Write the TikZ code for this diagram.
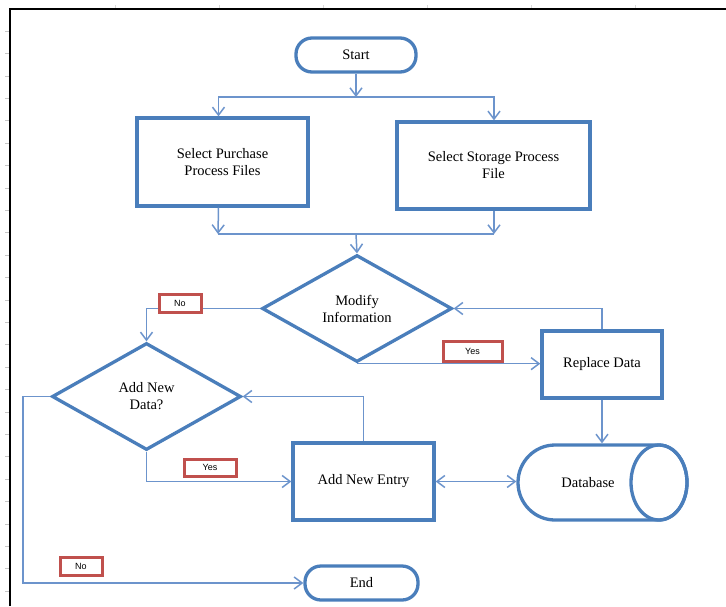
\documentclass[tikz,border=0pt]{standalone}
\usepackage{fontspec}
\setmainfont{Liberation Serif}
\newfontfamily\tagfont{Liberation Sans}
\usetikzlibrary{arrows.meta,calc,shapes.geometric}

\definecolor{boxblue}{RGB}{74,126,187}
\definecolor{linkblue}{RGB}{108,148,204}
\definecolor{tagred}{RGB}{192,80,77}

\tikzset{
  base/.style={draw=boxblue, line width=3.3pt, fill=white, align=center, inner sep=2pt,
    font=\fontsize{14.5}{17}\selectfont},
  terminal/.style={base, rounded corners=16pt, minimum width=#1, minimum height=34pt},
  stepbox/.style={base, minimum width=#1},
  decision/.style={base, diamond, inner sep=0pt, minimum width=190pt, minimum height=107pt},
  link/.style={draw=linkblue, line width=1.5pt},
  arrow/.style={link, -{Straight Barb[length=8pt,width=12pt]}},
  both/.style={link, {Straight Barb[length=8pt,width=12pt]}-{Straight Barb[length=8pt,width=12pt]}},
  tag/.style={draw=tagred, line width=3pt, fill=white, inner sep=0pt,
    minimum height=18pt, minimum width=#1, font=\tagfont\fontsize{9}{10}\selectfont},
}

\begin{document}
\begin{tikzpicture}[x=1pt, y=-1pt]
\useasboundingbox (0,0) rectangle (726,606);

% sheet frame with its gridline ticks
\foreach \t in {0,...,25} \draw[gray!45, line width=0.6pt] (5,31+22.4*\t) -- (9,31+22.4*\t);
\foreach \t in {0,...,6} \draw[gray!30, line width=0.6pt] (115+104*\t,5) -- (115+104*\t,8);
\draw[black, line width=2.2pt] (10,606) -- (10,9) -- (726,9);

% flowchart nodes
\node[terminal=120pt] (start) at (356,55) {Start};
\node[stepbox=171pt, minimum height=88pt] (purchase) at (222.5,162) {Select Purchase\\Process Files};
\node[stepbox=193pt, minimum height=87pt] (storage) at (493.5,165.5) {Select Storage Process\\File};
\node[decision] (modify) at (357,308.5) {Modify\\Information};
\node[decision, minimum width=189pt] (adddata) at (146.5,396.5) {Add New\\Data?};
\node[stepbox=120pt, minimum height=67pt] (replace) at (602,364.5) {Replace Data};
\node[stepbox=141pt, minimum height=77pt] (entry) at (363.5,481.5) {Add New Entry};
\node[terminal=113pt] (endn) at (361.5,583) {End};

% database drum: named frame plus its drawn outline
\node[minimum width=169pt, minimum height=75pt, inner sep=0pt, outer sep=1.6pt] (db) at (602.5,482.5) {};
\draw[boxblue, line width=3.3pt, fill=white]
  (555,445) -- (659,445) arc[start angle=-90, end angle=90, x radius=28pt, y radius=-37.5pt]
  -- (555,520) arc[start angle=90, end angle=270, x radius=37pt, y radius=-37.5pt] -- cycle;
\draw[boxblue, line width=3.3pt] (659,482.5) ellipse[x radius=28pt, y radius=37.5pt];
\node[font=\fontsize{14.5}{17}\selectfont] (dblabel) at (588,483) {Database};

% split below Start
\coordinate (split) at (356,97);
\draw[arrow] (start.south) -- (split);
\draw[arrow] (split) -| ([xshift=-4pt]purchase.north);
\draw[arrow] (split) -| ([xshift=0.5pt]storage.north);

% merge above the first decision
\coordinate (mergeL) at (218,234);
\coordinate (mergeR) at (494,234);
\coordinate (merge) at (356,234);
\draw[arrow] ([xshift=-4pt]purchase.south) -- (mergeL);
\draw[arrow] ([xshift=0.5pt]storage.south) -- (mergeR);
\draw[link] (mergeL) -- (mergeR);
\draw[arrow] (merge) -- (modify.north);

% branches of "Modify Information"
\draw[arrow] (modify.west) -| (adddata.north);
\draw[arrow] (modify.south) -- (modify.south -| replace.west);
\draw[arrow] (replace.north) |- (modify.east);
\draw[arrow] (replace.south) -- (replace.south |- db.north);

% branches of "Add New Data?"
\draw[arrow] (entry.north) |- (adddata.east);
\draw[arrow] (adddata.south) |- (entry.west);
\draw[both] (entry.east) -- (entry.east -| db.west);
\coordinate (loop) at (23,583);
\draw[arrow] (adddata.west) -- (adddata.west -| loop) |- (endn.west);

% answer tags
\node[tag=42pt] (noA) at (180,303) {No};
\node[tag=59pt, minimum height=20pt] (yesA) at (472.5,351.5) {Yes};
\node[tag=52pt, minimum height=17pt] (yesB) at (210,467.5) {Yes};
\node[tag=42pt] (noB) at (81,566.5) {No};
\end{tikzpicture}
\end{document}
